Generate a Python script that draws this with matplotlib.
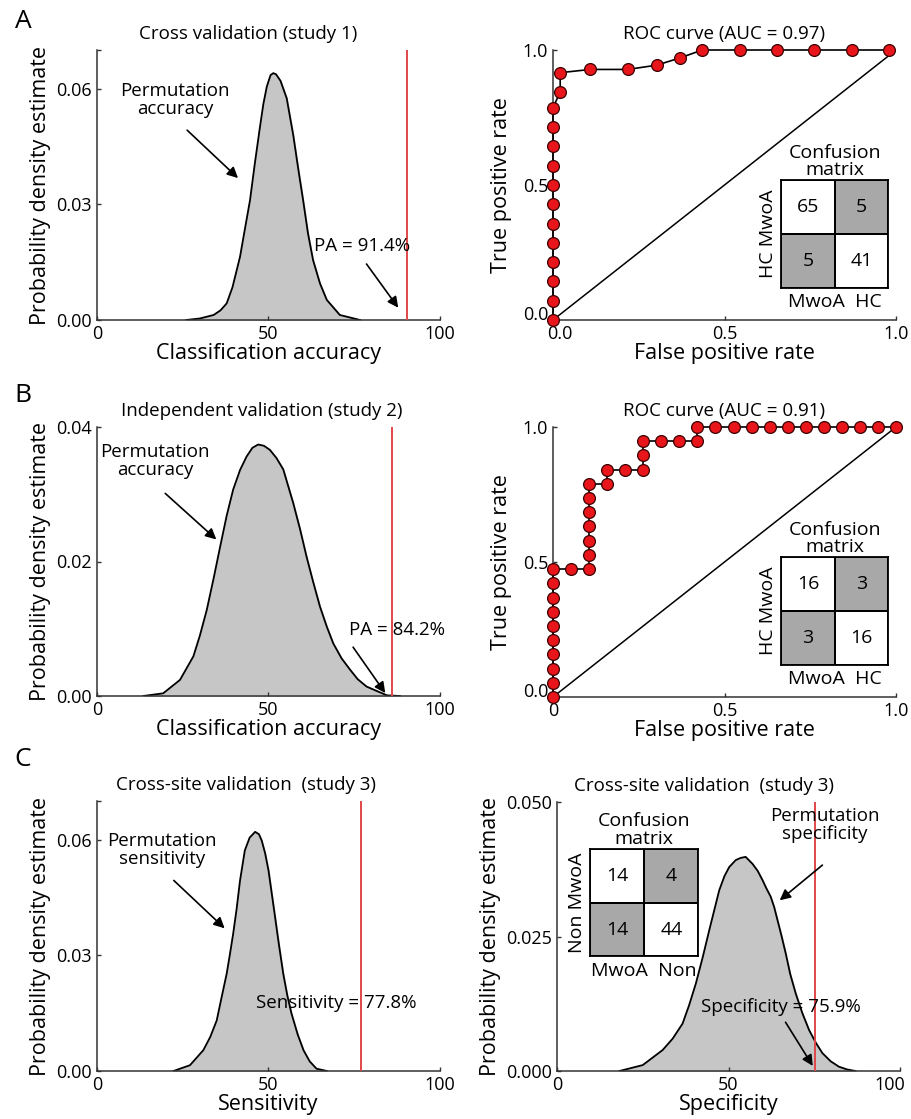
import numpy as np
import matplotlib
matplotlib.use("Agg")
import matplotlib.pyplot as plt
from matplotlib.colors import ListedColormap
from matplotlib.transforms import ScaledTranslation

plt.rcParams['font.family'] = ['Open Sans', 'DejaVu Sans']
plt.rcParams['xtick.direction'] = 'in'
plt.rcParams['ytick.direction'] = 'in'

# --- data ---
# A: cross validation (study 1) permutation density
a_x = [26, 30, 34, 36, 37.8, 39.5, 41.7, 43.2, 44.6, 46, 47.5, 48.5, 49.5, 50.6, 51.4, 52.2,
       53.5, 55.3, 57.2, 58.7, 60.1, 61.5, 63, 65, 67, 70.8, 76.7]
a_y = [0, 0.0004, 0.0013, 0.0025, 0.0043, 0.0085, 0.0164, 0.024, 0.031, 0.0405, 0.050, 0.056,
       0.0605, 0.0635, 0.064, 0.0637, 0.062, 0.0575, 0.048, 0.039, 0.031, 0.0225, 0.0155, 0.0095,
       0.0052, 0.0013, 0]
a_pa = 90.5   # line position as drawn (label reads 91.4%)

# A: ROC (AUC = 0.97)
roc_a_fpr = [0, 0, 0, 0, 0, 0, 0, 0, 0, 0, 0, 0, 0.021, 0.021, 0.109, 0.218, 0.303, 0.371,
             0.435, 0.545, 0.654, 0.762, 0.871, 0.979]
roc_a_tpr = [0, 0.071, 0.143, 0.214, 0.286, 0.357, 0.429, 0.5, 0.571, 0.643, 0.714, 0.786,
             0.845, 0.916, 0.928, 0.928, 0.944, 0.971, 1, 1, 1, 1, 1, 1]
cm_a = [[65, 5], [5, 41]]

# B: independent validation (study 2)
b_x = [13.5, 19.3, 24.2, 28.1, 30, 32, 34, 35.9, 37.8, 39.7, 41.7, 43.6, 45.3, 47, 48.7, 50.4,
       52.3, 54.3, 57.2, 59.2, 61.1, 63, 65, 67, 68.9, 71.3, 73.8, 76, 78.6, 84.5, 88.3]
b_y = [0, 0.0004, 0.0024, 0.0059, 0.009, 0.0128, 0.0175, 0.0222, 0.0268, 0.0307, 0.0336, 0.0356,
       0.0369, 0.0374, 0.0372, 0.0366, 0.0354, 0.0337, 0.0287, 0.0248, 0.0207, 0.017, 0.0133,
       0.0103, 0.0078, 0.0056, 0.0039, 0.0025, 0.0014, 0.0001, 0]
b_pa = 85.9   # label reads 84.2%

# B: ROC (AUC = 0.91), steps of 1/19
roc_b_fpr_k = [0] * 10 + [1, 2, 2, 2, 2, 2, 2, 2, 3, 3, 4, 5, 5, 5, 6, 7, 8, 8, 9, 10, 11, 12, 13, 14, 15, 16, 17, 18, 19]
roc_b_tpr_k = list(range(10)) + [9, 9, 10, 11, 12, 13, 14, 15, 15, 16, 16, 16, 17, 18, 18, 18, 18, 19,
                                 19, 19, 19, 19, 19, 19, 19, 19, 19, 19, 19]
cm_b = [[16, 3], [3, 16]]

# C: cross-site validation (study 3), sensitivity
c_x = [22.3, 27.1, 31, 33, 34.9, 36.3, 37.8, 38.7, 39.7, 40.7, 41.7, 43.1, 44.5, 46.1, 47.2, 48,
       49, 50, 51.9, 53, 54.3, 55.5, 56.7, 58.5, 60.2, 62, 64, 67]
c_y = [0, 0.0015, 0.0054, 0.0088, 0.0131, 0.019, 0.0252, 0.030, 0.0356, 0.042, 0.0494, 0.0572,
       0.0605, 0.062, 0.0614, 0.0598, 0.0565, 0.052, 0.040, 0.033, 0.0252, 0.0195, 0.0149, 0.0095,
       0.0054, 0.0025, 0.0006, 0]
c_sens = 77.1   # label reads 77.8%

# C: specificity
d_x = [18.2, 25, 30.8, 33.7, 36.6, 38.5, 40.5, 42.5, 44.4, 47.3, 48.8, 50.2, 52.1, 53.5, 55, 57,
       58.5, 59.9, 61, 62.3, 63.3, 64.3, 65.5, 66.7, 68, 69.6, 71.5, 73.5, 75.5, 77.4, 79.8, 82.2,
       84.5, 87]
d_y = [0, 0.0011, 0.0039, 0.006, 0.0088, 0.0122, 0.0163, 0.0212, 0.0262, 0.0336, 0.0362, 0.0379,
       0.0392, 0.0396, 0.0398, 0.0385, 0.0372, 0.0355, 0.034, 0.0324, 0.0305, 0.028, 0.025, 0.0218,
       0.018, 0.0144, 0.0108, 0.0076, 0.0052, 0.0033, 0.0018, 0.0008, 0.0003, 0]
d_spec = 75.2   # label reads 75.9%
cm_c = [[14, 4], [14, 44]]

RED = '#e04646'
FILL = '#c6c6c6'
CMGRAY = '#a8a8a8'
FS = 13
TFS = 13.5
LFS = 15.5

fig = plt.figure(figsize=(9.12, 11.19), dpi=100)
W, H = 912, 1119


def add_ax(l, t, r, b):
    return fig.add_axes([l / W, 1 - b / H, (r - l) / W, (b - t) / H])


def shift(label, dx, dy):
    label.set_transform(label.get_transform() + ScaledTranslation(dx / 72, dy / 72, fig.dpi_scale_trans))


def style(ax):
    for s in ['top', 'right']:
        ax.spines[s].set_visible(False)
    for s in ['left', 'bottom']:
        ax.spines[s].set_linewidth(1.1)
        ax.spines[s].set_color('#333333')
    ax.tick_params(labelsize=FS, length=3, width=1, colors='#333333', labelcolor='k')


def density(ax, x, y, line, ylim, yticks, ylabels, title, xlabel, tx):
    ax.fill_between(x, y, color=FILL, zorder=1)
    ax.plot(x, y, color='k', lw=1.3, zorder=2)
    ax.axvline(line, color=RED, lw=1.4, zorder=3)
    ax.set_xlim(0, 100)
    ax.set_ylim(0, ylim)
    ax.set_xticks([0, 50, 100])
    ax.set_yticks(yticks + [ylim] if yticks[-1] < ylim else yticks)
    ax.set_yticklabels(ylabels + [''] if yticks[-1] < ylim else ylabels)
    ax.set_xlabel(xlabel, fontsize=LFS, labelpad=0)
    ax.set_ylabel('Probability density estimate', fontsize=LFS, labelpad=4)
    ax.set_title(title, fontsize=TFS, x=tx, pad=8)
    style(ax)


def arrow(ax, xy, xytext):
    ax.annotate('', xy=xy, xytext=xytext,
                arrowprops=dict(arrowstyle='-|>', color='k', lw=1.2, mutation_scale=16))


def confusion(ax, bounds, cm, xl, yl):
    ins = ax.inset_axes(bounds, transform=ax.transData)
    cm = np.array(cm)
    mask = np.array([[0, 1], [1, 0]])
    ins.pcolormesh(mask[::-1], cmap=ListedColormap(['white', CMGRAY]), edgecolors='k', linewidth=1.3)
    for i in range(2):
        for j in range(2):
            ins.text(j + 0.5, 1.5 - i, str(cm[i, j]), ha='center', va='center', fontsize=TFS + 0.5)
    ins.set_xticks([])
    ins.set_yticks([])
    for s in ins.spines.values():
        s.set_linewidth(1.3)
    ins.set_title('Confusion\nmatrix', fontsize=TFS + 0.5, linespacing=0.95, pad=4)
    ins.set_xlabel(xl, fontsize=TFS + 0.5, labelpad=4)
    ins.set_ylabel(yl, fontsize=TFS + 0.5, labelpad=3)


def roc(ax, fpr, tpr, title, xtl, cm, x0shift):
    ax.plot([0, 1], [0, 1], color='k', lw=1.1)
    ax.plot(fpr, tpr, color='k', lw=1.2, marker='o', ms=8.5, mfc='#e8161b', mec='#3a0000',
            mew=0.9, clip_on=False, zorder=4)
    ax.set_xlim(0, 1)
    ax.set_ylim(0, 1)
    ax.set_xticks([0, 0.5, 1])
    ax.set_xticklabels(xtl)
    ax.set_yticks([0, 0.5, 1])
    ax.set_yticklabels(['0.0', '0.5', '1.0'])
    ax.set_xlabel('False positive rate', fontsize=LFS, labelpad=0)
    ax.set_ylabel('True positive rate', fontsize=LFS, labelpad=8)
    ax.set_title(title, fontsize=TFS, pad=8)
    style(ax)
    shift(ax.get_yticklabels()[0], 0, 5)
    shift(ax.get_xticklabels()[0], x0shift, 0)
    confusion(ax, [0.665, 0.12, 0.313, 0.397], cm, 'MwoA  HC', 'HC MwoA')


# ---- row A ----
ax1 = add_ax(97, 50, 440, 320)
density(ax1, a_x, a_y, a_pa, 0.07, [0, 0.03, 0.06], ['0.00', '0.03', '0.06'],
        'Cross validation (study 1)', 'Classification accuracy', 0.44)
ax1.text(22.7, 0.057, 'Permutation\naccuracy', ha='center', va='center', fontsize=TFS, linespacing=1.0)
arrow(ax1, (41.7, 0.0363), (25.7, 0.0497))
ax1.text(77.2, 0.0192, 'PA = 91.4%', ha='center', va='center', fontsize=TFS)
arrow(ax1, (88.3, 0.0026), (78.1, 0.0151))

ax2 = add_ax(553, 50, 896, 320)
roc(ax2, roc_a_fpr, roc_a_tpr, 'ROC curve (AUC = 0.97)', ['0.0', '0.5', '1.0'], cm_a, 5)

# ---- row B ----
ax3 = add_ax(97, 427, 440, 696)
density(ax3, b_x, b_y, b_pa, 0.04, [0, 0.02, 0.04], ['0.00', '0.02', '0.04'],
        'Independent validation (study 2)', 'Classification accuracy', 0.48)
ax3.text(16.9, 0.0349, 'Permutation\naccuracy', ha='center', va='center', fontsize=TFS, linespacing=1.0)
arrow(ax3, (35.4, 0.023), (19.3, 0.0304))
ax3.text(87.4, 0.0098, 'PA = 84.2%', ha='center', va='center', fontsize=TFS)
arrow(ax3, (84.5, 0.0001), (74.2, 0.0076))

ax4 = add_ax(553, 427, 896, 697)
roc(ax4, [k / 19 for k in roc_b_fpr_k], [k / 19 for k in roc_b_tpr_k],
    'ROC curve (AUC = 0.91)', ['0', '0.5', '1.0'], cm_b, 0)

# ---- row C ----
ax5 = add_ax(97, 801, 440, 1071)
density(ax5, c_x, c_y, c_sens, 0.07, [0, 0.03, 0.06], ['0.00', '0.03', '0.06'],
        'Cross-site validation  (study 3)', 'Sensitivity', 0.434)
ax5.text(18.9, 0.0572, 'Permutation\nsensitivity', ha='center', va='center', fontsize=TFS, linespacing=1.0)
arrow(ax5, (37.8, 0.0365), (21.8, 0.0499))
ax5.text(46.5, 0.0175, 'Sensitivity = 77.8%', ha='left', va='center', fontsize=TFS)

ax6 = add_ax(557, 802, 900, 1071)
density(ax6, d_x, d_y, d_spec, 0.05, [0, 0.025, 0.05], ['0.000', '0.025', '0.050'],
        'Cross-site validation  (study 3)', 'Specificity', 0.43)
ax6.text(78, 0.0457, 'Permutation\nspecificity', ha='center', va='center', fontsize=TFS, linespacing=1.05)
arrow(ax6, (64.3, 0.0314), (78, 0.0386))
ax6.text(65.2, 0.0119, 'Specificity = 75.9%', ha='center', va='center', fontsize=TFS)
arrow(ax6, (75, 0.0005), (66.2, 0.0095))
confusion(ax6, [9.7, 0.0213, 31.5, 0.0199], cm_c, 'MwoA  Non', 'Non MwoA')
# keep the last tick label inside the figure
shift(ax6.get_xticklabels()[-1], -7, 0)

# panel letters
for lab, y in [('A', 22), ('B', 395), ('C', 759)]:
    fig.text(23 / W, 1 - y / H, lab, fontsize=19, ha='center', va='center')

fig.savefig('out.png', dpi=100)
